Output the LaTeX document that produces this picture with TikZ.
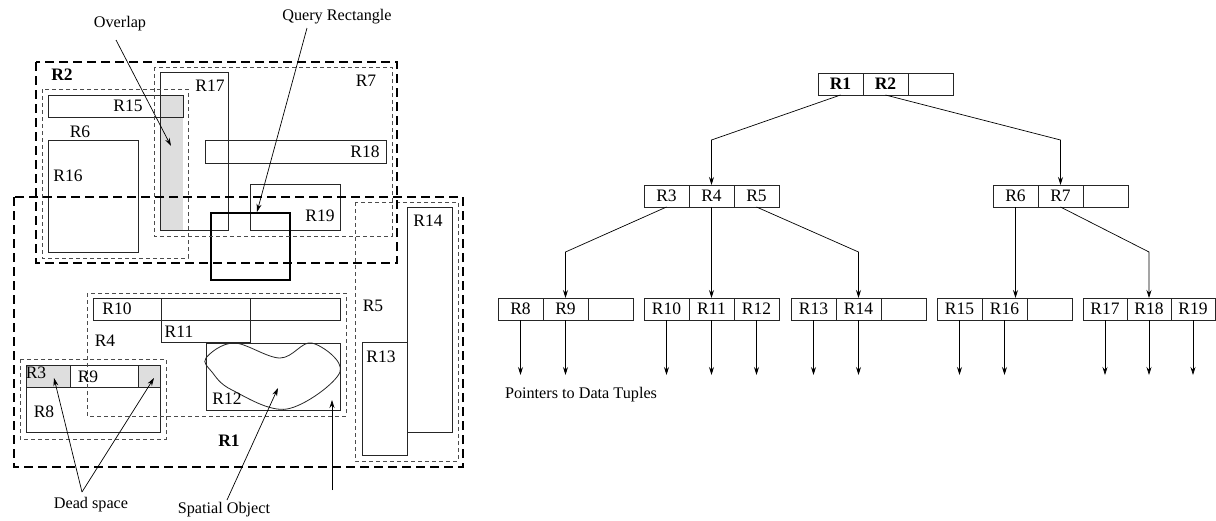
\documentclass[tikz,border=0pt]{standalone}
\usepackage{fontspec}
\setmainfont{Liberation Serif}
\usetikzlibrary{arrows.meta}
\begin{document}
\begin{tikzpicture}[x=1pt,y=-1pt,
  bigmbr/.style={line width=2pt, dash pattern=on 9pt off 5pt},
  smallmbr/.style={line width=0.8pt, dash pattern=on 4pt off 3pt, black!70},
  box/.style={line width=0.8pt, black!85},
  lab/.style={font=\fontsize{17.5}{20}\selectfont, inner sep=0pt},
  note/.style={font=\fontsize{16.2}{18}\selectfont, inner sep=0pt},
  arr/.style={line width=0.7pt, -{Stealth[length=8pt,width=5pt]}},
  cell/.style={draw, black!85, text=black, line width=0.8pt, minimum width=45pt, minimum height=22pt,
    inner sep=0pt, outer sep=0pt, font=\fontsize{17.5}{20}\selectfont, anchor=west},
  shade/.style={fill=black!13}]
\useasboundingbox (0,0) rectangle (1216,520);

% ---------------- left: spatial layout ----------------
\fill[shade] (161,95) rectangle (183,230);
\fill[shade] (26,365) rectangle (70,387);
\fill[shade] (138,365) rectangle (160,387);

% data rectangles
\draw[box] (48,95) rectangle (183,117);   % R15
\draw[box] (48,140) rectangle (138,252);  % R16
\draw[box] (160,72) rectangle (228,230);  % R17
\draw[box] (205,140) rectangle (386,163); % R18
\draw[box] (250,184) rectangle (340,230); % R19
\draw[box] (407,207) rectangle (452,432); % R14
\draw[box] (362,342) rectangle (407,455); % R13
\draw[box] (93,298) rectangle (340,320);  % R10
\draw[box] (161,298) rectangle (250,342); % R11
\draw[box] (206,343) rectangle (340,410); % R12
\draw[box] (26,365) rectangle (160,432);  % R8
\draw[box] (70,365) rectangle (138,387);  % R9
\draw[box] (26,387) -- (160,387);

% spatial object
\draw[box] plot[smooth cycle, tension=0.6] coordinates {(206,358) (234,343) (280,358) (312,343) (340,372) (287,409) (232,390) (212,372)};

% query rectangle
\draw[line width=2pt] (211,213) rectangle (290,280);

% intermediate MBRs
\draw[smallmbr] (42,89) rectangle (188,258);   % R6
\draw[smallmbr] (154,67) rectangle (392,236);  % R7
\draw[smallmbr] (355,202) rectangle (458,461); % R5
\draw[smallmbr] (87,293) rectangle (346,416);  % R4
\draw[smallmbr] (20,359) rectangle (166,439);  % R3

% top MBRs
\draw[bigmbr] (36,62) rectangle (397,263);  % R2
\draw[bigmbr] (14,197) rectangle (463,467); % R1

% labels
\node[lab] (lR2) at (62,75) {\textbf{R2}};
\node[lab] (lR1) at (229,441) {\textbf{R1}};
\node[lab] (lR6) at (80,132) {R6};
\node[lab] (lR7) at (366,81) {R7};
\node[lab] (lR15) at (128,106) {R15};
\node[lab] (lR16) at (68,176) {R16};
\node[lab] (lR17) at (210,86) {R17};
\node[lab] (lR18) at (365,152) {R18};
\node[lab] (lR19) at (320,216) {R19};
\node[lab] (lR14) at (428,221) {R14};
\node[lab] (lR5) at (373,306) {R5};
\node[lab] (lR13) at (381,357) {R13};
\node[lab] (lR4) at (105,341) {R4};
\node[lab] (lR10) at (117,309) {R10};
\node[lab] (lR11) at (179,332) {R11};
\node[lab] (lR12) at (227,399) {R12};
\node[lab] (lR3) at (36,373) {R3};
\node[lab] (lR9) at (88,377) {R9};
\node[lab] (lR8) at (44,412) {R8};

% annotations
\node[note] (nOverlap) at (120,24) {Overlap};
\node[note] (nQuery) at (337,17) {Query Rectangle};
\node[note] (nDead) at (91,505) {Dead space};
\node[note] (nSpatial) at (224,510) {Spatial Object};
\coordinate (sOverlap) at (116,40);
\coordinate (tOverlap) at (171,146);
\coordinate (sQuery) at (307,28);
\coordinate (tQuery) at (257,212);
\coordinate (sDead) at (82,492);
\coordinate (tDeadA) at (54,378);
\coordinate (tDeadB) at (154,378);
\coordinate (sSpatial) at (227,500);
\coordinate (tSpatial) at (278,388);
\coordinate (sMBR) at (332,490);
\coordinate (tMBR) at (332,400);
\draw[arr] (sOverlap) -- (tOverlap);
\draw[arr] (sQuery) -- (tQuery);
\draw[arr] (sDead) -- (tDeadA);
\draw[arr] (sDead) -- (tDeadB);
\draw[arr] (sSpatial) -- (tSpatial);
\draw[arr] (sMBR) -- (tMBR);

% ---------------- right: R-tree ----------------
% root
\node[cell] (r1) at (818,84) {\textbf{R1}};
\node[cell] (r2) at (r1.east) {\textbf{R2}};
\node[cell] (r0) at (r2.east) {};
% level 2
\node[cell] (r3) at (644,196) {R3};
\node[cell] (r4) at (r3.east) {R4};
\node[cell] (r5) at (r4.east) {R5};
\node[cell] (r6) at (993,196) {R6};
\node[cell] (r7) at (r6.east) {R7};
\node[cell] (r7x) at (r7.east) {};
% level 3
\node[cell] (r8) at (498,309) {R8};
\node[cell] (r9) at (r8.east) {R9};
\node[cell] (r9x) at (r9.east) {};
\node[cell] (r10) at (644,309) {R10};
\node[cell] (r11) at (r10.east) {R11};
\node[cell] (r12) at (r11.east) {R12};
\node[cell] (r13) at (791,309) {R13};
\node[cell] (r14) at (r13.east) {R14};
\node[cell] (r14x) at (r14.east) {};
\node[cell] (r15) at (937,309) {R15};
\node[cell] (r16) at (r15.east) {R16};
\node[cell] (r16x) at (r16.east) {};
\node[cell, minimum width=44pt] (r17) at (1083,309) {R17};
\node[cell, minimum width=44pt] (r18) at (r17.east) {R18};
\node[cell, minimum width=44pt] (r19) at (r18.east) {R19};

% bends
\coordinate (b1) at (r4.north |- 0,140);
\coordinate (b2) at (r7.north |- 0,140);
\coordinate (b3) at (r9.north |- 0,252);
\coordinate (b5) at (r14.north |- 0,252);
\coordinate (b7) at (r18.north |- 0,252);

\draw[arr] (r1.south) -- (b1) -- (r4.north);
\draw[arr] (r2.south) -- (b2) -- (r7.north);
\draw[arr] (r3.south) -- (b3) -- (r9.north);
\draw[arr] (r4.south) -- (r11.north);
\draw[arr] (r5.south) -- (b5) -- (r14.north);
\draw[arr] (r6.south) -- (r6.south |- r16.north);
\draw[arr] (r7.south) -- (b7) -- (r18.north);

% pointers to data
\foreach \c in {r8,r9,r10,r11,r12,r13,r14,r15,r16,r17,r18,r19}{
  \coordinate (p\c) at (\c.south |- 0,375);
  \draw[arr] (\c.south) -- (p\c);
}
\node[note] (nPointers) at (581,395) {Pointers to Data Tuples};
\end{tikzpicture}
\end{document}
